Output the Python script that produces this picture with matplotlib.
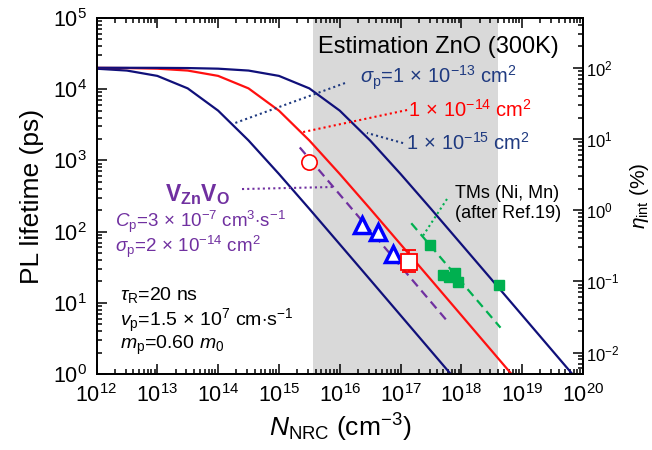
import numpy as np
import matplotlib
matplotlib.use("Agg")
import matplotlib.pyplot as plt
from matplotlib.ticker import LogLocator, NullFormatter

plt.rcParams['font.family'] = ['Liberation Sans', 'DejaVu Sans']
plt.rcParams['mathtext.fontset'] = 'custom'
plt.rcParams['mathtext.rm'] = 'Liberation Sans'
plt.rcParams['mathtext.it'] = 'Liberation Sans:italic'
plt.rcParams['mathtext.bf'] = 'Liberation Sans:bold'

# PL lifetime (ps) vs N_NRC (cm^-3), curves read at half-decade steps
n_grid = [1e12, 3.16e12, 1e13, 3.16e13, 1e14, 3.16e14, 1e15, 3.16e15, 1e16,
          3.16e16, 1e17, 3.16e17, 1e18, 3.16e18, 1e19, 3.16e19, 1e20]
tau_s13 = [19400, 18270, 15380, 10270, 5000, 1907, 645, 209, 66.4,
           21.1, 6.67, 2.11, 0.667, 0.211, 0.0667, 0.0211, 0.00667]
tau_s14 = [19940, 19810, 19420, 18270, 15380, 10270, 5000, 1907, 645,
           209, 66.4, 21.1, 6.67, 2.11, 0.667, 0.211, 0.0667]
tau_s15 = [19990, 19980, 19940, 19810, 19420, 18270, 15380, 10270, 5000,
           1907, 645, 209, 66.4, 21.1, 6.67, 2.11, 0.667]

# V_Zn V_O fit (C_p = 3e-7) and TM trend line
vznvo_n = [2.2e15, 6.0e17]
vznvo_tau = [1520, 5.4]
tm_n = [1.5e17, 4.4e18]
tm_tau = [131, 4.47]

# measured points
circle_n, circle_tau = 3.1e15, 960
tri_n = [2.28e16, 4.2e16, 7.6e16]
tri_tau = [122, 98, 48]
sq_n, sq_tau = 1.4e17, 37.8
sq_err = [[37.8 - 27.4], [55 - 37.8]]
tm_pts_n = [3.0e17, 5.0e17, 6.3e17, 7.8e17, 8.7e17, 4.1e18]
tm_pts_tau = [65, 24.5, 23.3, 26, 19.8, 17.8]

shade = [3.7e15, 4.0e18]
tau_R = 20000  # ps, for internal efficiency axis

navy = '#10107a'
navy_txt = '#1f3a80'
purple = '#7030a0'
green = '#00b050'
X = r'$\,\times\,$'

fig = plt.figure(figsize=(6.52, 4.5), dpi=100)
ax = fig.add_axes([96.5 / 652, 1 - 374 / 450, 486.5 / 652, 356 / 450])

ax.axvspan(shade[0], shade[1], color='#d9d9d9', lw=0, zorder=0)

ax.plot(n_grid, tau_s13, color=navy, lw=1.6, zorder=2)
ax.plot(n_grid, tau_s14, color='#ff1010', lw=1.6, zorder=2)
ax.plot(n_grid, tau_s15, color=navy, lw=1.6, zorder=2)

ax.plot(vznvo_n, vznvo_tau, color=purple, lw=1.6, ls=(0, (4, 2.5)), zorder=2)
ax.plot(tm_n, tm_tau, color=green, lw=1.6, ls=(0, (4, 2.5)), zorder=2)

ax.plot(circle_n, circle_tau, 'o', mfc='white', mec='red', ms=11, mew=1.2, zorder=4)
ax.plot(tri_n, tri_tau, '^', mfc='white', mec='#0000ff', ms=12, mew=2.5, ls='none', zorder=4)
ax.errorbar(sq_n, sq_tau, yerr=sq_err, fmt='s', mfc='white', mec='red', ecolor='red',
            ms=11, mew=1.3, capsize=5, elinewidth=1.2, capthick=1.2, zorder=4)
ax.plot(tm_pts_n, tm_pts_tau, 's', color=green, ms=7, ls='none', zorder=4)

# annotation leader lines
dot = dict(lw=1.5, ls=(0, (1, 1.5)), zorder=3)
ax.plot([1.22e16, 1.9e14], [12200, 3350], color=navy_txt, **dot)
ax.plot([1.28e17, 2.49e15], [5100, 2500], color='red', **dot)
ax.plot([1.1e17, 2.8e16], [1750, 2430], color=navy_txt, **dot)
ax.plot([2.47e14, 7.8e15], [396, 423], color=purple, **dot)
ax.plot([5.8e17, 2.35e17], [287, 88], color=green, **dot)

ax.set_xscale('log')
ax.set_yscale('log')
ax.set_xlim(1e12, 1e20)
ax.set_ylim(1, 1e5)

for a in (ax.xaxis, ax.yaxis):
    a.set_major_locator(LogLocator(base=10, numticks=100))
    a.set_minor_locator(LogLocator(base=10, subs=np.arange(2, 10), numticks=100))
    a.set_minor_formatter(NullFormatter())

ax.tick_params(which='both', direction='in', top=True, right=False, width=1.1)
ax.tick_params(which='major', length=7, labelsize=15.5, pad=7)
ax.tick_params(which='minor', length=3.5)
for s in ax.spines.values():
    s.set_linewidth(1.3)

ax.set_xlabel(r'$N_\mathrm{NRC}$ (cm$^{-3}$)', fontsize=19, labelpad=4)
ax.set_ylabel('PL lifetime (ps)', fontsize=19, labelpad=6)

ax2 = ax.twinx()
ax2.set_yscale('log')
ax2.set_ylim(1 / tau_R * 100, 1e5 / tau_R * 100)
ax2.yaxis.set_major_locator(LogLocator(base=10, numticks=100))
ax2.yaxis.set_minor_locator(LogLocator(base=10, subs=np.arange(2, 10), numticks=100))
ax2.yaxis.set_minor_formatter(NullFormatter())
ax2.tick_params(which='both', direction='in', width=1.1)
ax2.tick_params(which='major', length=7, labelsize=12, pad=2)
ax2.tick_params(which='minor', length=3.5)
ax2.set_ylabel(r'$\eta_\mathrm{int}$ (%)', fontsize=15, labelpad=6)
for s in ax2.spines.values():
    s.set_linewidth(1.3)

# text labels
ax.text(0.455, 0.919, 'Estimation ZnO (300K)', transform=ax.transAxes,
        fontsize=17, ha='left', va='center')
ax.text(0.542, 0.831, r'$\sigma_\mathrm{p}$=1' + X + '10$^{-13}$ cm$^2$', transform=ax.transAxes,
        fontsize=14.5, color=navy_txt, ha='left', va='center')
ax.text(0.640, 0.742, '1' + X + '10$^{-14}$ cm$^2$', transform=ax.transAxes,
        fontsize=14.5, color='red', ha='left', va='center')
ax.text(0.636, 0.649, '1' + X + '10$^{-15}$ cm$^2$', transform=ax.transAxes,
        fontsize=14.5, color=navy_txt, ha='left', va='center')
ax.text(0.737, 0.508, 'TMs (Ni, Mn)', transform=ax.transAxes,
        fontsize=13, ha='left', va='center')
ax.text(0.737, 0.452, '(after Ref.19)', transform=ax.transAxes,
        fontsize=13, ha='left', va='center')
ax.text(0.141, 0.505, r'$\mathbf{V_{Zn}V_O}$', transform=ax.transAxes,
        fontsize=16.5, color=purple, ha='left', va='center')
ax.text(0.038, 0.428, r'$C_\mathrm{p}$=3' + X + '10$^{-7}$ cm$^3$$\cdot$s$^{-1}$', transform=ax.transAxes,
        fontsize=13.5, color=purple, ha='left', va='center')
ax.text(0.038, 0.356, r'$\sigma_\mathrm{p}$=2' + X + '10$^{-14}$ cm$^2$', transform=ax.transAxes,
        fontsize=13.5, color=purple, ha='left', va='center')
ax.text(0.048, 0.222, r'$\tau_\mathrm{R}$=20 ns', transform=ax.transAxes,
        fontsize=14, ha='left', va='center')
ax.text(0.048, 0.148, r'$v_\mathrm{p}$=1.5' + X + '10$^7$ cm$\cdot$s$^{-1}$', transform=ax.transAxes,
        fontsize=14, ha='left', va='center')
ax.text(0.048, 0.080, r'$m_\mathrm{p}$=0.60 $m_0$', transform=ax.transAxes,
        fontsize=14, ha='left', va='center')

fig.savefig('out.png', dpi=100)
